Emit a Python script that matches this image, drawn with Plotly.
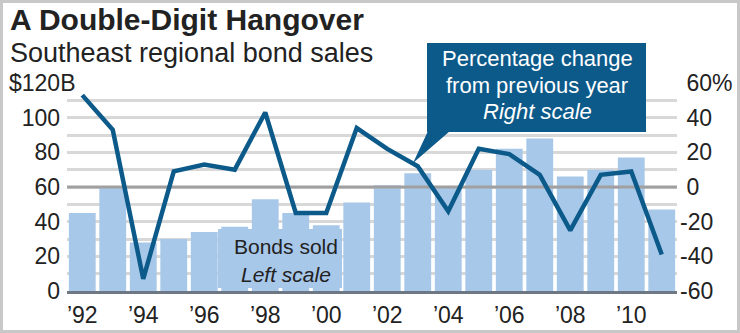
import plotly.graph_objects as go

# ---- data ----
years = list(range(1992, 2012))
bonds_sold = [45, 60, 28, 30, 34, 37, 53, 45, 38, 51, 61, 68, 60, 70, 82, 88, 66, 70, 77, 47]
pct_change = [53, 33, -53, 9, 13, 10, 43, -15, -15, 34, 22, 12, -14, 22, 19, 7, -25, 7, 9, -39]
x_tick_years = years[::2]
x_tick_text = ["’" + str(y)[2:] for y in x_tick_years]
left_ticks = [0, 20, 40, 60, 80, 100, 120]
left_text = ["0", "20", "40", "60", "80", "100", ""]
top_left_label = "$120B"   # label of the 120 tick, placed by hand (it overhangs the axis)
right_ticks = [-60, -40, -20, 0, 20, 40, 60]
right_text = ["-60", "-40", "-20", "\u00a00", "\u00a020", "\u00a040", "\u00a060%"]

# ---- style ----
W, H = 740, 333
L, R, T, B = 67, 677, 83, 291
BAR = "#a8c8ea"
BLUE = "#0c5a8a"
GRID = "#d8d8d8"
TXT = "#222222"
FONT = "Liberation Sans, Arial, sans-serif"


def px(x):
    return (x - L) / (R - L)


def py(y):
    return (B - y) / (B - T)


fig = go.Figure()
fig.add_bar(x=years, y=bonds_sold, marker_color=BAR, marker_line_width=0,
            yaxis="y", hoverinfo="skip")
# 0% reference line on the right scale, drawn above bars but below the line
fig.add_scatter(x=[years[0] - 0.5, years[-1] + 0.5], y=[0, 0], yaxis="y2",
                mode="lines", line=dict(color="#a0a0a0", width=3), hoverinfo="skip")
fig.add_scatter(x=years, y=pct_change, yaxis="y2", mode="lines",
                line=dict(color=BLUE, width=4.5), hoverinfo="skip")

shapes = [
    # frame
    dict(type="rect", xref="paper", yref="paper", x0=px(1.5), x1=px(738.5),
         y0=py(331.5), y1=py(1.5), line=dict(color="#c8c8c8", width=3), layer="above"),
    # callout box
    dict(type="rect", xref="paper", yref="paper", x0=px(427), x1=px(646),
         y0=py(132), y1=py(43), fillcolor=BLUE, line=dict(width=0), layer="above"),
    dict(type="path", xref="paper", yref="paper",
         path=f"M {px(428)},{py(131)} L {px(450)},{py(131)} L {px(413)},{py(163)} Z",
         fillcolor=BLUE, line=dict(width=0), layer="above"),
    # bonds label background
    dict(type="rect", xref="paper", yref="paper", x0=px(218), x1=px(342),
         y0=py(288), y1=py(229), fillcolor=BAR, line=dict(width=0), layer="above"),
]

annotations = [
    dict(text="<b>A Double-Digit Hangover</b>", x=px(8), y=py(20), xref="paper", yref="paper",
         xanchor="left", yanchor="middle", showarrow=False, font=dict(size=30, color=TXT, family=FONT)),
    dict(text="Southeast regional bond sales", x=px(8), y=py(53), xref="paper", yref="paper",
         xanchor="left", yanchor="middle", showarrow=False, font=dict(size=27, color=TXT, family=FONT)),
    dict(text=top_left_label, x=px(6), y=120, xref="paper", yref="y",
         xanchor="left", yanchor="middle", showarrow=False, bgcolor="white", borderpad=2,
         font=dict(size=23, color=TXT, family=FONT)),
    dict(text="Percentage change", x=px(537), y=py(59), xref="paper", yref="paper",
         xanchor="center", yanchor="middle", showarrow=False, font=dict(size=22, color="white", family=FONT)),
    dict(text="from previous year", x=px(537), y=py(85), xref="paper", yref="paper",
         xanchor="center", yanchor="middle", showarrow=False, font=dict(size=22, color="white", family=FONT)),
    dict(text="<i>Right scale</i>", x=px(537), y=py(111), xref="paper", yref="paper",
         xanchor="center", yanchor="middle", showarrow=False, font=dict(size=22, color="white", family=FONT)),
    dict(text="Bonds sold", x=px(286), y=py(246), xref="paper", yref="paper",
         xanchor="center", yanchor="middle", showarrow=False, font=dict(size=21, color=TXT, family=FONT)),
    dict(text="<i>Left scale</i>", x=px(286), y=py(274), xref="paper", yref="paper",
         xanchor="center", yanchor="middle", showarrow=False, font=dict(size=21, color=TXT, family=FONT)),
]

fig.update_layout(
    width=W, height=H,
    margin=dict(l=L, r=W - R, t=T, b=H - B, pad=0, autoexpand=False),
    paper_bgcolor="white", plot_bgcolor="white",
    showlegend=False, bargap=0.12,
    font=dict(family=FONT, size=23, color=TXT),
    xaxis=dict(range=[years[0] - 0.5, years[-1] + 0.5], tickvals=x_tick_years, ticktext=x_tick_text,
               showgrid=False, zeroline=False, showline=True, linecolor="#6d7884", linewidth=3,
               ticks="", ticklabelstandoff=1, automargin=False, tickfont=dict(size=23, color=TXT)),
    yaxis=dict(range=[0, 120], tickvals=left_ticks, ticktext=left_text, showgrid=True,
               gridcolor=GRID, gridwidth=3, zeroline=False, ticks="", ticklabelstandoff=6,
               automargin=False,
               minor=dict(dtick=10, showgrid=True, gridcolor=GRID, gridwidth=3),
               tickfont=dict(size=23, color=TXT)),
    yaxis2=dict(range=[-60, 60], overlaying="y", side="right", tickvals=right_ticks, ticktext=right_text,
                showgrid=False, zeroline=False, ticks="", ticklabelstandoff=2, automargin=False,
                tickfont=dict(size=23, color=TXT)),
    shapes=shapes, annotations=annotations,
)

fig.write_html("out.html")
